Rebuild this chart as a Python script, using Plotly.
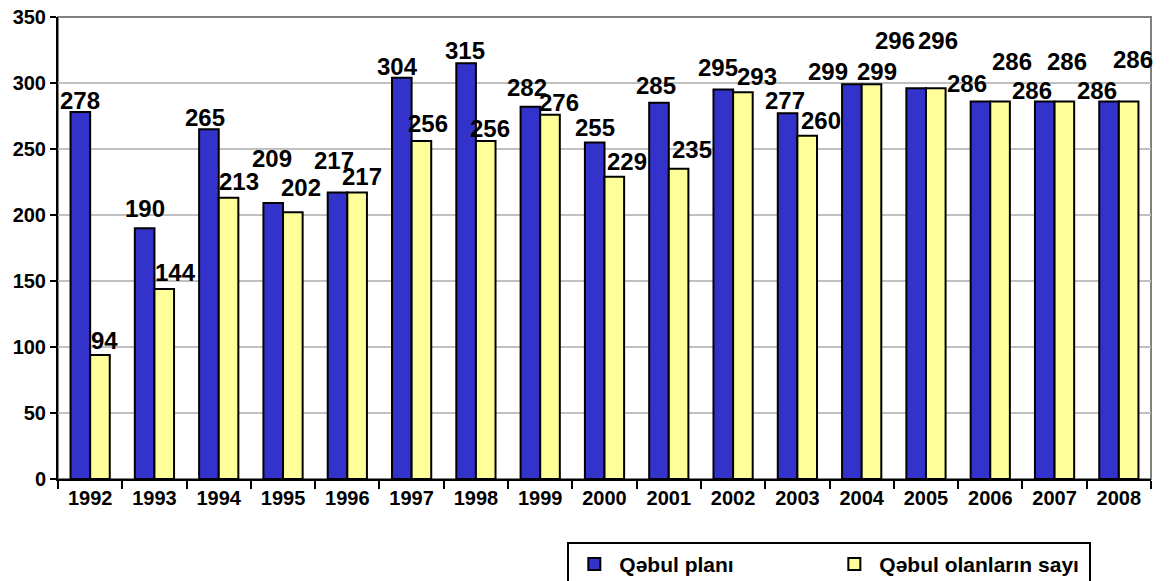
import plotly.graph_objects as go

years = ['1992', '1993', '1994', '1995', '1996', '1997', '1998', '1999', '2000',
         '2001', '2002', '2003', '2004', '2005', '2006', '2007', '2008']
plan = [278, 190, 265, 209, 217, 304, 315, 282, 255, 285, 295, 277, 299, 296, 286, 286, 286]
admitted = [94, 144, 213, 202, 217, 256, 256, 276, 229, 235, 293, 260, 299, 296, 286, 286, 286]

# label nudges (px) relative to category centre / bar top, as placed in the original
plan_dx = [-10, -9, -14, -11, -13, -14, -11, -13, -10, -13, -15, -12, -34, -31, -23, -23, -22]
plan_dy = [12, 20, 12, 45, 32, 11, 13, 19, 15, 17, 22, 13, 13, 48, 18, 11, 11]
adm_dx = [14, 21, 20, 18, 15, 16, 14, 19, 22, 23, 24, 24, 15, 12, 22, 12, 14]
adm_dy = [14, 16, 16, 25, 16, 18, 13, 12, 15, 19, 16, 15, 13, 48, 40, 40, 42]

FONT = 'Liberation Sans, Arial, sans-serif'

fig = go.Figure()
fig.add_trace(go.Bar(x=years, y=plan, name='<b>Qəbul planı</b>',
                     marker=dict(color='#3333CC', line=dict(color='black', width=2))))
fig.add_trace(go.Bar(x=years, y=admitted, name='<b>Qəbul olanların sayı</b>',
                     marker=dict(color='#FFFF99', line=dict(color='black', width=2))))

# category axis: annotations placed by category index
for vals, dxs, dys in [(plan, plan_dx, plan_dy), (admitted, adm_dx, adm_dy)]:
    for i, (v, dx, dy) in enumerate(zip(vals, dxs, dys)):
        fig.add_annotation(x=i, y=v, text='<b>%d</b>' % v, showarrow=False,
                           xshift=dx, yshift=dy, yanchor='middle',
                           font=dict(family=FONT, size=24, color='black'))

# grey plot frame (top/right)
fig.add_shape(type='rect', xref='paper', yref='paper', x0=0, y0=0, x1=1, y1=1,
              line=dict(color='#808080', width=2), layer='below')

# page body has an 8px margin, so the margins below are offset by it
fig.update_layout(
    width=1176, height=581,
    margin=dict(l=50, r=33, t=9, b=110, autoexpand=False),
    paper_bgcolor='white', plot_bgcolor='white',
    barmode='group', bargap=0.39, bargroupgap=0,
    font=dict(family=FONT, color='black'),
    showlegend=True,
    legend=dict(orientation='h', x=0.466, y=-0.136, xanchor='left', yanchor='top',
                bordercolor='black', borderwidth=2, bgcolor='white',
                font=dict(family=FONT, size=21, color='black'),
                entrywidth=205, itemwidth=40),
    xaxis=dict(type='category', range=[-0.5, 16.5], showline=True, linecolor='black',
               linewidth=2, ticks='outside', tickson='boundaries', ticklen=8, tickwidth=2,
               tickcolor='black', showgrid=False, tickangle=0,
               tickfont=dict(family=FONT, size=20, color='black'),
               tickprefix='<b>', ticksuffix='</b>'),
    yaxis=dict(range=[0, 350], dtick=50, showline=True, linecolor='black', linewidth=2,
               ticks='outside', ticklen=6, tickwidth=2, tickcolor='black',
               showgrid=True, gridcolor='#C0C0C0', gridwidth=2, zeroline=False,
               ticklabeloverflow='allow',
               tickfont=dict(family=FONT, size=20, color='black'),
               tickprefix='<b>', ticksuffix='</b>'),
)

fig.write_html('out.html')
